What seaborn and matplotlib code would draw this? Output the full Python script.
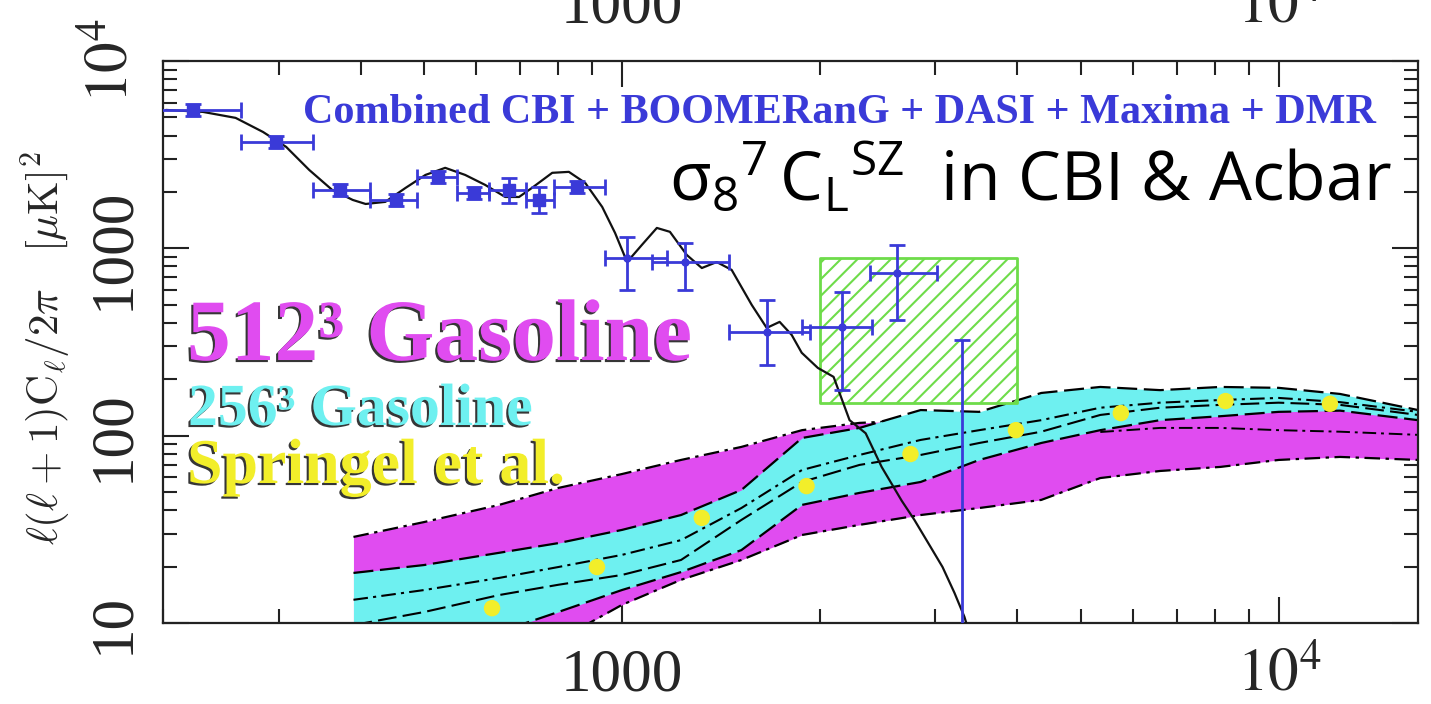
import matplotlib
matplotlib.use("Agg")
import numpy as np
import pandas as pd
import seaborn as sns
import matplotlib.pyplot as plt
from matplotlib import patheffects as pe
from matplotlib.ticker import FixedLocator, FixedFormatter, NullFormatter, LogLocator

# ---------------- data ----------------
# CMB model curve (black line)
cmb_l = [202, 230, 258, 284, 308, 334, 362, 389, 407, 436, 468, 502, 538, 577, 619, 664,
         697, 729, 783, 830, 879, 933, 976, 1018, 1072, 1130, 1183, 1255, 1323, 1394, 1469,
         1576, 1661, 1738, 1813, 1878, 1987, 2100, 2221, 2350, 2486, 2666, 2788, 2950, 3077,
         3208, 3322, 3350]
cmb_y = [5480, 5350, 4970, 4180, 3480, 2620, 2050, 1813, 1725, 1770, 2100, 2465, 2690, 2465,
         2180, 1880, 1880, 2100, 2530, 2560, 2235, 1663, 1208, 845, 1042, 1285, 1225, 922, 785,
         845, 767, 499, 376, 405, 345, 277, 230, 206, 121, 103, 68, 45, 35.5, 25.5, 19.9,
         14.5, 10.8, 9.8]

# combined CMB band powers (squares)
pts_l = [222, 297, 372, 452, 524, 596, 673, 748, 855]
pts_y = [5480, 3700, 2050, 1810, 2405, 1977, 2050, 1810, 2130]
pts_l_lo = [190, 263, 338, 414, 488, 561, 628, 713, 788]
pts_l_hi = [263, 338, 414, 488, 561, 628, 713, 788, 942]
pts_y_lo = [5090, 3440, 1900, 1680, 2230, 1840, 1746, 1545, 1980]
pts_y_hi = [5900, 3990, 2210, 1950, 2590, 2130, 2377, 2130, 2300]

# high-l band powers (small dots)
hi_l = [1018, 1247, 1660, 2160, 2620]
hi_y = [890, 845, 358, 380, 740]
hi_l_lo = [942, 1110, 1455, 1877, 2382]
hi_l_hi = [1170, 1455, 1932, 2400, 3013]
hi_y_lo = [600, 600, 238, 175, 415]
hi_y_hi = [1150, 1070, 530, 585, 1040]

# last bin (upper extent only)
lim_l = [3300]
lim_y_lo = [1]
lim_y_hi = [325]

# CBI & Acbar SZ box
box_l = [2000, 4000]
box_lo = 150
box_hi = 890

# simulation bands
band_l = [390, 500, 650, 800, 1000, 1230, 1520, 1880, 2300, 2850, 3500, 4350, 5350, 6600,
          8150, 10000, 12400, 16300]
mag_hi = [28.8, 34.6, 42.7, 52.6, 62.4, 74.2, 87.1, 107, 117, 121, 124, 137, 151, 155, 159,
          159, 146, 124]
mag_lo = [3.9, 4.7, 6.0, 8.1, 12.5, 17.0, 21.7, 29.5, 33.4, 37.7, 41.1, 45.4, 59.4, 64.8,
          68.1, 74.2, 77.0, 74.2]
cyan_hi = [18.5, 20.4, 23.7, 26.7, 31.4, 37.7, 51.3, 97.2, 110, 137, 134, 169, 182, 175, 182,
           180, 167, 137]
cyan_lo = [6.35, 7.35, 8.95, 11.45, 15.0, 18.7, 24.5, 42.7, 49.5, 56.6, 74.2, 91.4, 107, 121,
           127, 134, 136, 121]
cyan_mid1 = [13.3, 15.0, 17.4, 19.9, 23.1, 27.7, 41.1, 65.6, 78.9, 94.9, 107, 121, 141, 150,
             155, 159, 151, 134]
cyan_mid2 = [9.75, 11.45, 14.1, 16.0, 18.05, 21.7, 35.5, 56.6, 69.8, 78.9, 91.4, 105, 129, 141,
             146, 150, 146, 129]
mag_mid_l = [5350, 6600, 8150, 10000, 12400, 16300]
mag_mid = [104.6, 110, 110, 107, 105, 101]

# Springel et al. points
spr_l = [634, 916, 1323, 1910, 2750, 3980, 5750, 8300, 11970]
spr_y = [12.0, 19.9, 36.4, 53.8, 79.8, 107, 132, 153, 148]

xticks = [1000, 10000]
xticklabels = ["1000", r"$10^4$"]
yticks = [10, 100, 1000, 10000]
yticklabels = ["10", "100", "1000", r"$10^4$"]

# ---------------- style ----------------
sns.set_style("ticks")
plt.rcParams["font.family"] = ["Liberation Serif", "DejaVu Serif"]
plt.rcParams["mathtext.fontset"] = "stix"
plt.rcParams["mathtext.rm"] = "Open Sans"
plt.rcParams["mathtext.it"] = "Open Sans:italic"
plt.rcParams["mathtext.bf"] = "Open Sans:bold"
plt.rcParams["hatch.linewidth"] = 1.5

BLUE = "#3a3ad8"
MAG = "#e04cf0"
CYAN = "#6ef0f0"
YEL = "#f2ee2a"
GREEN = "#6edc4a"

fig = plt.figure(figsize=(14.31, 7.04), dpi=100)
ax = fig.add_axes([163 / 1431, 1 - 623 / 704, 1255 / 1431, 562 / 704])
ax.set_xscale("log")
ax.set_yscale("log")
ax.set_xlim(200, 16300)
ax.set_ylim(10, 10000)

# bands
ax.fill_between(band_l, mag_lo, mag_hi, color=MAG, lw=0, zorder=1)
dashdot = (0, (7, 2.5, 1.5, 2.5))
longdash = (0, (9, 3))
sns.lineplot(x=band_l, y=mag_hi, ax=ax, color="k", lw=1.6, linestyle=dashdot, zorder=1.1)
sns.lineplot(x=band_l, y=mag_lo, ax=ax, color="k", lw=1.6, linestyle=dashdot, zorder=1.1)
ax.fill_between(band_l, cyan_lo, cyan_hi, color=CYAN, lw=0, zorder=1.2)
sns.lineplot(x=band_l, y=cyan_hi, ax=ax, color="k", lw=1.6, linestyle=longdash, zorder=1.3)
sns.lineplot(x=band_l, y=cyan_lo, ax=ax, color="k", lw=1.6, linestyle=longdash, zorder=1.3)
sns.lineplot(x=band_l, y=cyan_mid1, ax=ax, color="k", lw=1.5, linestyle=dashdot, zorder=1.3)
sns.lineplot(x=band_l, y=cyan_mid2, ax=ax, color="k", lw=1.5, linestyle=longdash, zorder=1.3)
sns.lineplot(x=mag_mid_l, y=mag_mid, ax=ax, color="k", lw=1.4, linestyle=dashdot, zorder=1.3)

# SZ box
ax.fill_between(box_l, box_lo, box_hi, facecolor="none", edgecolor=GREEN, hatch="//",
                lw=2, zorder=2)

# model curve
sns.lineplot(x=cmb_l, y=cmb_y, ax=ax, color="#111111", lw=1.6, zorder=3)

# data points
ax.errorbar(pts_l, pts_y,
            xerr=[np.subtract(pts_l, pts_l_lo), np.subtract(pts_l_hi, pts_l)],
            yerr=[np.subtract(pts_y, pts_y_lo), np.subtract(pts_y_hi, pts_y)],
            fmt="s", color=BLUE, ms=8, elinewidth=2, capsize=6, capthick=2, zorder=4)
ax.errorbar(hi_l, hi_y,
            xerr=[np.subtract(hi_l, hi_l_lo), np.subtract(hi_l_hi, hi_l)],
            yerr=[np.subtract(hi_y, hi_y_lo), np.subtract(hi_y_hi, hi_y)],
            fmt="o", color=BLUE, ms=5, elinewidth=2, capsize=6, capthick=2, zorder=4)
ax.errorbar(lim_l, lim_y_lo, yerr=[[0], np.subtract(lim_y_hi, lim_y_lo)],
            fmt="none", color=BLUE, elinewidth=2, capsize=6, capthick=2, zorder=4)

# Springel points
sns.scatterplot(x=spr_l, y=spr_y, ax=ax, color=YEL, s=140, edgecolor="none", zorder=5)

# axes styling
for s in ax.spines.values():
    s.set_visible(True)
    s.set_linewidth(1.6)
    s.set_color("#222222")
ax.xaxis.set_major_locator(FixedLocator(xticks))
ax.xaxis.set_major_formatter(FixedFormatter(xticklabels))
ax.yaxis.set_major_locator(FixedLocator(yticks))
ax.yaxis.set_major_formatter(FixedFormatter(yticklabels))
ax.xaxis.set_minor_locator(LogLocator(base=10, subs=np.arange(2, 10)))
ax.yaxis.set_minor_locator(LogLocator(base=10, subs=np.arange(2, 10)))
ax.xaxis.set_minor_formatter(NullFormatter())
ax.yaxis.set_minor_formatter(NullFormatter())
ax.tick_params(which="both", direction="in", top=True, right=True, labeltop=True,
               color="#222222", width=1.5)
ax.tick_params(which="major", length=19)
ax.tick_params(which="minor", length=10)
ax.tick_params(axis="x", which="major", labelsize=44, pad=18)
ax.tick_params(axis="y", which="major", labelsize=44, pad=16, labelrotation=90)
for lbl in ax.get_yticklabels():
    lbl.set_va("center")

ax.set_xlabel("")
ax.set_ylabel("")

# y label
fig.text(46 / 1431, 1 - 348 / 704, r"$\ell(\ell+1){\rm C}_\ell/2\pi\quad[\mu{\rm K}]^2$",
         rotation=90, ha="center", va="center", fontsize=31, math_fontfamily="cm")

# annotations
fig.text(303 / 1431, 1 - 123 / 704, "Combined CBI + BOOMERanG + DASI + Maxima + DMR",
         color=BLUE, fontsize=30.3, fontweight="bold", ha="left", va="baseline")
fig.text(669 / 1431, 1 - 200 / 704,
         r"$\mathrm{\sigma_8{}^7\,C_L{}^{SZ}}$  in CBI & Acbar",
         color="black", fontsize=49, family="Open Sans", ha="left", va="baseline",
         math_fontfamily="custom")

shadow = [pe.withSimplePatchShadow(offset=(-1.5, -1.5), shadow_rgbFace="#202020", alpha=0.9)]
t1 = fig.text(187 / 1431, 1 - 360 / 704, "512\u00b3 Gasoline", color=MAG, fontsize=63,
              fontweight="bold", ha="left", va="baseline")
t2 = fig.text(188 / 1431, 1 - 425 / 704, "256\u00b3 Gasoline", color=CYAN, fontsize=43,
              fontweight="bold", ha="left", va="baseline")
t3 = fig.text(187 / 1431, 1 - 483 / 704, "Springel et al.", color=YEL, fontsize=46,
              fontweight="bold", ha="left", va="baseline")
for t in (t1, t2, t3):
    t.set_path_effects(shadow)

fig.savefig("out.png", dpi=100)
